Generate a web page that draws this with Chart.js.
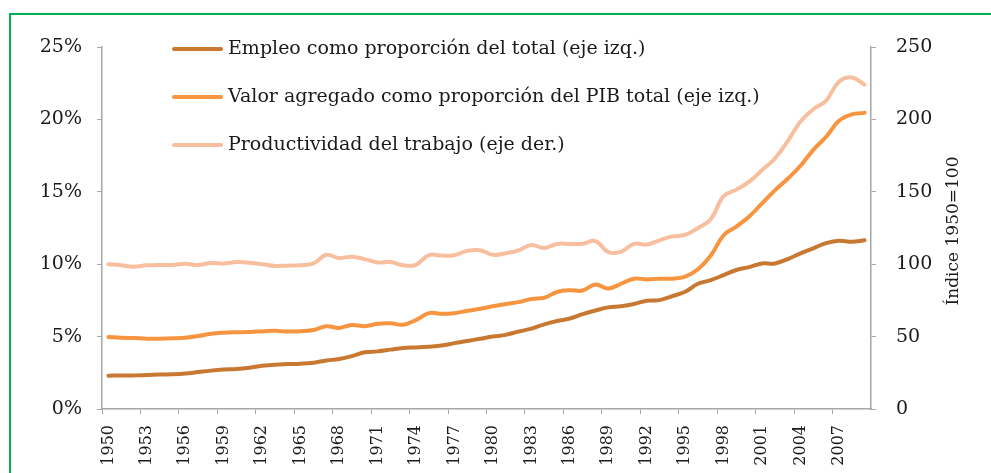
<!DOCTYPE html>
<html>
<head>
<meta charset="utf-8">
<script src="https://cdn.jsdelivr.net/npm/chart.js@4.4.1/dist/chart.umd.min.js"></script>
<style>
  html, body { margin: 0; padding: 0; background: #ffffff; overflow: hidden; }
  #frame { position: absolute; left: 9px; top: 13px; width: 1200px; height: 700px; border: 2px solid #00B050; box-sizing: border-box; }
  #wrap { position: absolute; left: 0; top: 0; width: 991px; height: 473px; }
</style>
</head>
<body>
<div id="frame"></div>
<div id="wrap"><canvas id="c"></canvas></div>
<script>
const years = ["1950","1951","1952","1953","1954","1955","1956","1957","1958","1959",
  "1960","1961","1962","1963","1964","1965","1966","1967","1968","1969",
  "1970","1971","1972","1973","1974","1975","1976","1977","1978","1979",
  "1980","1981","1982","1983","1984","1985","1986","1987","1988","1989",
  "1990","1991","1992","1993","1994","1995","1996","1997","1998","1999",
  "2000","2001","2002","2003","2004","2005","2006","2007","2008","2009"];

// Employment share of total (%), left axis
const empleo = [2.30,2.31,2.32,2.34,2.38,2.40,2.45,2.55,2.65,2.72,
  2.76,2.85,2.98,3.06,3.10,3.13,3.20,3.35,3.45,3.65,
  3.92,3.98,4.10,4.22,4.25,4.30,4.38,4.55,4.70,4.85,
  5.00,5.12,5.35,5.55,5.85,6.08,6.25,6.55,6.80,7.02,
  7.10,7.25,7.48,7.52,7.80,8.10,8.65,8.90,9.25,9.60,
  9.80,10.05,10.05,10.35,10.75,11.10,11.45,11.62,11.55,11.65];

// Value added share of total GDP (%), left axis
const valorAgregado = [4.97,4.92,4.90,4.86,4.86,4.88,4.92,5.04,5.20,5.27,
  5.30,5.32,5.36,5.40,5.35,5.37,5.45,5.72,5.60,5.80,
  5.72,5.88,5.92,5.82,6.15,6.62,6.58,6.62,6.78,6.92,
  7.10,7.25,7.38,7.60,7.68,8.08,8.20,8.18,8.60,8.32,
  8.65,9.00,8.95,9.00,9.00,9.15,9.65,10.60,12.00,12.60,
  13.30,14.20,15.10,15.90,16.80,17.90,18.80,19.90,20.35,20.45];

// Labour productivity index (1950=100), right axis
const productividad = [100,99.3,98.3,99.2,99.5,99.5,100.3,99.4,100.8,100.4,
  101.5,101,100,98.8,99,99.3,100.5,106.5,104.2,105.2,
  103.5,101.2,101.5,99.2,99.6,106.3,106,106.2,109.2,109.6,
  106.5,107.5,109.6,113.2,111.2,114,114,114.2,116,108.4,
  108.6,114,113.6,116.5,119.2,120.2,125,131,147,151.5,
  157,165,173,185,198.5,207,213,226,229,224];

const leftTicks = [0,5,10,15,20,25];
const rightTicks = [0,50,100,150,200,250];

const seriesNames = [
  "Empleo como proporción del total (eje izq.)",
  "Valor agregado como proporción del PIB total (eje izq.)",
  "Productividad del trabajo (eje der.)"
];
const seriesColors = ["#C97832", "#F7943F", "#F8BF9F"];
const rightTitle = "Índice 1950=100";

const FONT = "'DejaVu Serif', 'Liberation Serif', serif";
const AXIS = "#A6A6A6";
const TEXT = "#1A1A1A";

const legendPlugin = {
  id: 'customLegend',
  afterDraw(chart) {
    const ctx = chart.ctx;
    ctx.save();
    const rows = [49, 97, 145];
    chart.data.datasets.forEach((ds, i) => {
      const y = rows[i];
      ctx.strokeStyle = ds.borderColor;
      ctx.lineWidth = 4;
      ctx.lineCap = 'round';
      ctx.beginPath();
      ctx.moveTo(174, y);
      ctx.lineTo(221, y);
      ctx.stroke();
      ctx.fillStyle = TEXT;
      ctx.font = "19px " + FONT;
      ctx.textBaseline = 'middle';
      ctx.textAlign = 'left';
      ctx.fillText(ds.label, 228, y);
    });
    // right axis title, rotated bottom-to-top
    ctx.translate(954, 231);
    ctx.rotate(-Math.PI / 2);
    ctx.textAlign = 'center';
    ctx.textBaseline = 'middle';
    ctx.fillStyle = TEXT;
    ctx.font = "17px " + FONT;
    ctx.fillText(rightTitle, 0, 0);
    ctx.restore();
  }
};

new Chart(document.getElementById('c'), {
  type: 'line',
  data: {
    labels: years,
    datasets: [
      { label: seriesNames[0], data: empleo, yAxisID: 'yL', borderColor: seriesColors[0] },
      { label: seriesNames[1], data: valorAgregado, yAxisID: 'yL', borderColor: seriesColors[1] },
      { label: seriesNames[2], data: productividad, yAxisID: 'yR', borderColor: seriesColors[2] }
    ]
  },
  options: {
    responsive: true,
    maintainAspectRatio: false,
    animation: false,
    devicePixelRatio: 1,
    layout: { padding: { top: 47, left: 0, right: 0, bottom: 0 } },
    elements: {
      line: { borderWidth: 4, tension: 0.4, borderCapStyle: 'round', borderJoinStyle: 'round', fill: false },
      point: { radius: 0, hoverRadius: 0 }
    },
    plugins: { legend: { display: false }, tooltip: { enabled: false } },
    scales: {
      x: {
        type: 'category',
        offset: true,
        grid: {
          offset: true,
          drawOnChartArea: false,
          drawTicks: true,
          tickLength: 5,
          color: (c) => (c.index % 3 === 0 ? AXIS : 'rgba(0,0,0,0)')
        },
        border: { display: true, color: AXIS, width: 1.5 },
        ticks: {
          autoSkip: false,
          minRotation: 90,
          maxRotation: 90,
          padding: 11,
          color: TEXT,
          font: { family: FONT, size: 16 },
          callback: function (v, i) { return i % 3 === 0 ? years[i] : ''; }
        },
        afterFit: (s) => { s.height = 64; }
      },
      yL: {
        position: 'left',
        min: 0, max: 25,
        afterBuildTicks: (s) => { s.ticks = leftTicks.map(v => ({ value: v })); },
        grid: { drawOnChartArea: false, drawTicks: true, tickLength: 5, color: AXIS },
        border: { display: true, color: AXIS, width: 1.5 },
        ticks: {
          padding: 15,
          color: TEXT,
          font: { family: FONT, size: 19 },
          callback: (v) => v + '%'
        },
        afterFit: (s) => { s.width = 102; }
      },
      yR: {
        position: 'right',
        min: 0, max: 250,
        afterBuildTicks: (s) => { s.ticks = rightTicks.map(v => ({ value: v })); },
        grid: { drawOnChartArea: false, drawTicks: true, tickLength: 5, color: AXIS },
        border: { display: true, color: AXIS, width: 1.5 },
        ticks: {
          padding: 20,
          color: TEXT,
          font: { family: FONT, size: 19 },
          callback: (v) => String(v)
        },
        afterFit: (s) => { s.width = 120; }
      }
    }
  },
  plugins: [legendPlugin]
});
</script>
</body>
</html>
